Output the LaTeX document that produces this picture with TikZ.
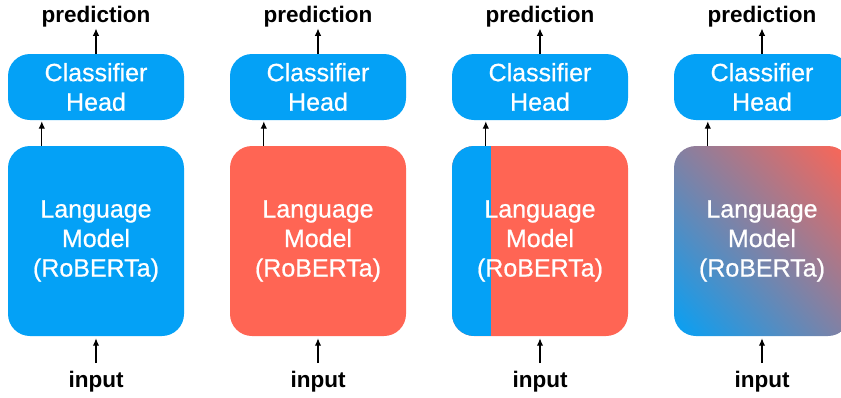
\documentclass[tikz,border=0pt]{standalone}
\usepackage{fontspec}
\setmainfont{Liberation Sans}
\newfontfamily\medfont[FakeBold=0.7]{Liberation Sans}
\usetikzlibrary{arrows.meta,shadings}
\definecolor{kblue}{RGB}{4,161,246}
\definecolor{kred}{RGB}{255,101,84}
\definecolor{kmid}{RGB}{132,128,162}
\begin{document}
\begin{tikzpicture}[x=1pt,y=-1pt,
  headbox/.style={rectangle, rounded corners=22pt, fill=kblue, minimum width=176pt, minimum height=66pt, inner sep=0pt, text=white, align=center, font=\medfont\fontsize{25}{29.5}\selectfont},
  lmbox/.style={rectangle, rounded corners=22pt, minimum width=176pt, minimum height=190pt, inner sep=0pt, text=white, align=center, font=\medfont\fontsize{25}{29.5}\selectfont},
  lmfill1/.style={fill=kblue},
  lmfill2/.style={fill=kred},
  lmfill3/.style={fill=kred, path picture={\fill[kblue, sharp corners] (path picture bounding box.south west) rectangle ([xshift=39pt]path picture bounding box.north west);}},
  lmfill4/.style={lower left=kblue, upper right=kred, upper left=kmid, lower right=kmid},
  lbl/.style={font=\fontsize{22.5}{26}\selectfont\bfseries, inner sep=1.5pt, anchor=base},
  arr/.style={-{Latex[length=7.5pt,width=6.5pt]}, line width=1.3pt, black}]
\useasboundingbox (0,0) rectangle (841,397);

\foreach \i in {1,2,3,4} {
  \pgfmathsetmacro{\X}{8+222*(\i-1)+88}
  \node[headbox] (head\i) at (\X,87) {Classifier\\Head};
  \node[lmbox, lmfill\i] (lm\i) at (\X,241) {Language\\Model\\(RoBERTa)};
  \node[lbl] (pred\i) at (\X,22) {prediction};
  \node[lbl] (in\i) at (\X,387) {input};
  \draw[arr] (head\i.north) -- (pred\i.south);
  \draw[arr, shorten <=6pt, shorten >=2pt] (in\i.north) -- (lm\i.south);
  \draw[arr, shorten >=1pt] ([xshift=34pt]lm\i.north west) -- ([xshift=34pt]head\i.south west);
}
\end{tikzpicture}
\end{document}
